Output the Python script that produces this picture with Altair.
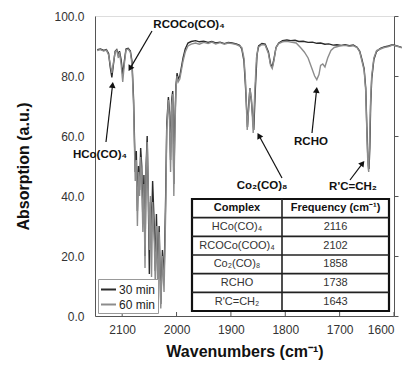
import math
import altair as alt
import pandas as pd

# ---------------- data ----------------
series_names = ["30 min", "60 min"]
series_colors = ["#2b2b2b", "#8c8c8c"]

wn_30 = [2146, 2140, 2134, 2129, 2125, 2122, 2119, 2116, 2113, 2110, 2107, 2105, 2102, 2099, 2096,
         2093, 2089, 2085, 2082, 2079, 2076, 2074, 2072, 2070, 2068, 2066, 2064, 2062, 2060, 2058,
         2056, 2054, 2052, 2050, 2048, 2046, 2044, 2041, 2039, 2037, 2034, 2032, 2029, 2026, 2023,
         2020, 2018, 2015, 2013, 2011, 2009, 2007, 2005, 2003, 2001, 1999, 1997, 1994, 1991, 1988,
         1984, 1979, 1973, 1965, 1958, 1950, 1942, 1935, 1928, 1920, 1912, 1905, 1898, 1890, 1884,
         1880, 1876, 1873, 1869.5, 1867, 1865, 1862, 1858, 1855, 1852, 1849, 1843, 1837, 1831, 1827,
         1824, 1821, 1817, 1812, 1805, 1797, 1790, 1782, 1775, 1767, 1758, 1750, 1742, 1735, 1727,
         1720, 1712, 1705, 1697, 1690, 1682, 1675, 1668, 1663, 1659, 1655, 1652, 1650, 1648, 1646,
         1644.5, 1643, 1641, 1637, 1632, 1625, 1618, 1610, 1603, 1596, 1589, 1586]
ab_30 = [88.8, 89.0, 88.5, 88.8, 87.5, 83.0, 79.5, 84.0, 88.2, 88.8, 87.0, 88.3, 85.5, 80.5, 85.0,
         89.0, 89.2, 88.3, 85.0, 72.0, 48.0, 55.0, 35.0, 50.0, 42.0, 56.0, 50.0, 32.0, 47.0, 20.0,
         50.0, 60.0, 40.0, 14.0, 38.0, 28.0, 45.0, 30.0, 15.0, 34.0, 12.0, 30.0, 4.0, 22.0, 12.0,
         40.0, 64.0, 73.0, 68.0, 52.0, 72.0, 75.0, 44.0, 65.0, 77.0, 81.0, 79.0, 80.0, 83.0, 86.0,
         89.0, 91.0, 91.5, 91.8, 91.4, 91.6, 91.2, 91.5, 91.0, 91.3, 90.8, 91.2, 91.0, 90.7, 90.2,
         89.0, 85.0, 76.0, 63.0, 71.0, 76.0, 71.0, 62.0, 76.0, 87.0, 90.0, 90.8, 90.6, 88.0, 84.0,
         83.0, 85.5, 89.5, 91.0, 91.8, 92.0, 91.8, 91.9, 91.5, 91.6, 91.2, 91.3, 90.9, 91.0, 90.6,
         90.7, 90.3, 90.4, 90.2, 90.4, 90.1, 90.3, 89.6, 88.2, 85.5, 82.5, 76.0, 63.0, 52.0, 49.0,
         56.0, 70.0, 79.0, 85.5, 88.2, 89.2, 89.7, 90.0, 90.4, 90.1, 89.7, 89.5]

wn_60 = [2146, 2140, 2134, 2129, 2125, 2122, 2119, 2116, 2113, 2110, 2107, 2105, 2102, 2099, 2096,
         2093, 2089, 2085, 2082, 2079, 2076, 2074, 2072, 2070, 2068, 2066, 2064, 2062, 2060, 2058,
         2056, 2054, 2052, 2050, 2048, 2046, 2044, 2041, 2039, 2037, 2034, 2032, 2029, 2026, 2023,
         2020, 2018, 2015, 2013, 2011, 2009, 2007, 2005, 2003, 2001, 1999, 1997, 1994, 1991, 1988,
         1984, 1979, 1973, 1965, 1958, 1950, 1942, 1935, 1928, 1920, 1912, 1905, 1898, 1890, 1884,
         1880, 1876, 1873, 1870, 1867, 1865, 1862, 1859, 1856, 1853, 1850, 1843, 1837, 1831, 1827,
         1824, 1821, 1817, 1812, 1805, 1797, 1790, 1780, 1772, 1765, 1758, 1752, 1746, 1742, 1738,
         1735, 1731, 1727, 1722, 1716, 1710, 1700, 1690, 1682, 1675, 1668, 1663, 1659, 1655, 1652,
         1650, 1648, 1646.5, 1645, 1643, 1641, 1637, 1632, 1625, 1618, 1610, 1603, 1596, 1589, 1586]
ab_60 = [88.5, 88.8, 88.3, 88.6, 87.0, 84.0, 81.0, 84.5, 88.0, 88.6, 86.0, 88.0, 84.0, 78.0, 84.0,
         88.7, 89.0, 88.0, 84.0, 70.0, 45.0, 52.0, 30.0, 48.0, 40.0, 53.0, 46.0, 28.0, 44.0, 16.0,
         48.0, 58.0, 42.0, 22.0, 40.0, 13.0, 38.0, 25.0, 10.0, 30.0, 8.0, 28.0, 2.5, 20.0, 8.0,
         35.0, 62.0, 72.0, 66.0, 48.0, 70.0, 74.0, 40.0, 62.0, 76.0, 80.0, 78.0, 79.0, 82.0, 85.0,
         88.0, 90.0, 90.6, 91.0, 90.6, 91.2, 90.8, 91.3, 90.7, 91.1, 90.6, 91.0, 90.8, 90.5, 90.0,
         89.5, 86.0, 78.0, 62.0, 70.0, 76.0, 72.0, 61.0, 75.0, 86.0, 89.5, 90.5, 90.3, 87.5, 83.5,
         82.5, 85.0, 89.5, 90.8, 91.4, 91.6, 91.3, 91.0, 89.5, 88.0, 86.0, 83.0, 80.0, 78.8, 80.5,
         83.5, 84.0, 83.0, 86.0, 88.5, 89.5, 90.0, 90.2, 89.9, 90.1, 89.5, 88.0, 85.0, 82.0, 75.0,
         62.0, 50.0, 48.0, 58.0, 72.0, 80.0, 86.0, 88.5, 89.0, 89.5, 89.8, 90.3, 90.0, 89.6, 89.4]

y_ticks = [0, 20, 40, 60, 80, 100]
x_ticks = [2100, 2000, 1900, 1800, 1700, 1600]

table_header = ["Complex", "Frequency (cm⁻¹)"]
table_complex = ["HCo(CO)₄", "RCOCo(COO)₄", "Co₂(CO)₈", "RCHO", "R'C=CH₂"]
table_freq = ["2116", "2102", "1858", "1738", "1643"]

ann_labels = ["HCo(CO)₄", "RCOCo(CO)₄", "Co₂(CO)₈", "RCHO", "R'C=CH₂"]

# ---------------- layout (pixels inside the plot area) ----------------
W, H = 299, 300
FONT = "Liberation Sans"

ann_pos = [(5, 139), (94, 9), (167, 170), (216, 126), (258, 171)]
arrow_tail = [(11, 126), (57, 15), (187, 162), (217, 117), (255, 164)]
arrow_tip = [(18, 65), (33, 56), (162, 116), (222, 70), (270, 144)]

T_LEFT, T_DIV, T_RIGHT, T_TOP, T_BOTTOM = 97, 187, 294, 183, 295

# ---------------- build tables ----------------
spec = pd.concat([
    pd.DataFrame({"wn": wn_30, "ab": ab_30, "series": series_names[0]}),
    pd.DataFrame({"wn": wn_60, "ab": ab_60, "series": series_names[1]}),
], ignore_index=True)

x_scale = alt.Scale(domain=[1600, 2150], reverse=True, nice=False, zero=False)
y_scale = alt.Scale(domain=[0, 100], nice=False, zero=False)

x_axis = alt.Axis(values=x_ticks, format="d", ticks=False, grid=False, labelPadding=8,
                  labelFontSize=12, labelColor="#333", domainColor="#555",
                  title="Wavenumbers (cm⁻¹)", titleFontSize=16, titleFontWeight="bold",
                  titleColor="#111", titleX=W / 2, titleY=35, titleBaseline="middle",
                  titleAlign="center")
y_axis = alt.Axis(values=y_ticks, format=".1f", ticks=False, grid=False, labelPadding=11,
                  labelFontSize=12, labelColor="#333", domainColor="#555",
                  title="Absorption (a.u.)", titleFontSize=16, titleFontWeight="bold",
                  titleColor="#111", titleX=-72, titleY=H / 2, titleAngle=-90,
                  titleBaseline="middle", titleAlign="center")

lines = alt.Chart(spec).mark_line(strokeWidth=1.4, clip=False).encode(
    x=alt.X("wn:Q", scale=x_scale, axis=x_axis),
    y=alt.Y("ab:Q", scale=y_scale, axis=y_axis),
    color=alt.Color("series:N", scale=alt.Scale(domain=series_names, range=series_colors),
                    legend=alt.Legend(title=None, orient="bottom-left", offset=3,
                                      fillColor="white", strokeColor="#999", padding=2,
                                      symbolType="stroke", symbolSize=225, symbolStrokeWidth=2,
                                      labelFontSize=12, labelColor="#222", rowPadding=0,
                                      labelOffset=2)),
    detail="series:N",
)

right_axis = alt.Chart(pd.DataFrame({"ab": y_ticks})).mark_point(opacity=0).encode(
    y=alt.Y("ab:Q", scale=y_scale,
            axis=alt.Axis(orient="right", values=y_ticks, labels=False, title=None, grid=False,
                          tickSize=4, tickColor="#555", domainColor="#555"))
)

xticks_in = alt.Chart(pd.DataFrame({"wn": x_ticks})).mark_rule(color="#555", strokeWidth=1).encode(
    x=alt.X("wn:Q", scale=x_scale, axis=x_axis),
    y=alt.value(H - 4),
    y2=alt.value(H),
)

# table
rh = (T_BOTTOM - T_TOP) / 6
tbl_box = alt.Chart(pd.DataFrame({"x": [T_LEFT], "x2": [T_RIGHT], "y": [T_TOP], "y2": [T_BOTTOM]})).mark_rect(
    fill="white", stroke="#111", strokeWidth=2.2).encode(
    x=alt.X("x:Q", scale=None), x2="x2:Q", y=alt.Y("y:Q", scale=None), y2="y2:Q")

hl = pd.DataFrame({"x": [T_LEFT] * 5, "x2": [T_RIGHT] * 5,
                   "y": [T_TOP + rh * i for i in range(1, 6)]})
hl["y2"] = hl["y"]
vl = pd.DataFrame({"x": [T_DIV], "x2": [T_DIV], "y": [T_TOP], "y2": [T_BOTTOM]})
tbl_lines = alt.Chart(pd.concat([hl, vl], ignore_index=True)).mark_rule(
    color="#222", strokeWidth=1.6).encode(
    x=alt.X("x:Q", scale=None), x2="x2:Q", y=alt.Y("y:Q", scale=None), y2="y2:Q")

c1 = (T_LEFT + T_DIV) / 2
c2 = (T_DIV + T_RIGHT) / 2
head_df = pd.DataFrame({"x": [c1, c2], "y": [T_TOP + rh / 2] * 2, "t": table_header})
body_df = pd.DataFrame({
    "x": [c1] * 5 + [c2] * 5,
    "y": [T_TOP + rh * (i + 1.5) for i in range(5)] * 2,
    "t": table_complex + table_freq,
})
tbl_head = alt.Chart(head_df).mark_text(fontSize=11, fontWeight="bold", color="#111",
                                        baseline="middle", font=FONT).encode(
    x=alt.X("x:Q", scale=None), y=alt.Y("y:Q", scale=None), text="t:N")
tbl_body = alt.Chart(body_df).mark_text(fontSize=11, color="#333", baseline="middle",
                                        font=FONT).encode(
    x=alt.X("x:Q", scale=None), y=alt.Y("y:Q", scale=None), text="t:N")

# annotations
ann_df = pd.DataFrame({"x": [p[0] for p in ann_pos], "y": [p[1] for p in ann_pos], "t": ann_labels})
ann_text = alt.Chart(ann_df).mark_text(fontSize=11.5, fontWeight="bold", color="#111",
                                       baseline="middle", font=FONT).encode(
    x=alt.X("x:Q", scale=None), y=alt.Y("y:Q", scale=None), text="t:N")

rows_shaft, rows_head = [], []
for (x0, y0), (x1, y1) in zip(arrow_tail, arrow_tip):
    dx, dy = x1 - x0, y1 - y0
    L = math.hypot(dx, dy)
    ux, uy = dx / L, dy / L
    ang = math.degrees(math.atan2(dx, -dy)) % 360
    rows_shaft.append({"x": x0, "y": y0, "x2": x1 - ux * 6, "y2": y1 - uy * 6})
    rows_head.append({"x": x1 - ux * 4, "y": y1 - uy * 4, "a": ang})

shafts = alt.Chart(pd.DataFrame(rows_shaft)).mark_rule(color="#111", strokeWidth=1.2).encode(
    x=alt.X("x:Q", scale=None), x2="x2:Q", y=alt.Y("y:Q", scale=None), y2="y2:Q")
heads = alt.Chart(pd.DataFrame(rows_head)).mark_point(
    shape="triangle-up", filled=True, color="#111", size=45, opacity=1).encode(
    x=alt.X("x:Q", scale=None), y=alt.Y("y:Q", scale=None),
    angle=alt.Angle("a:Q", scale=None))

chart = alt.layer(
    lines, right_axis, xticks_in, tbl_box, tbl_lines, tbl_head, tbl_body, ann_text, shafts, heads
).resolve_axis(y="independent").properties(
    width=W, height=H,
    autosize=alt.AutoSizeParams(type="none"),
    padding={"left": 87, "top": 8, "right": 8, "bottom": 45},
).configure_view(stroke="#555", strokeWidth=1).configure(font=FONT)

chart.save("out.html", embed_options={"renderer": "svg", "actions": False})
